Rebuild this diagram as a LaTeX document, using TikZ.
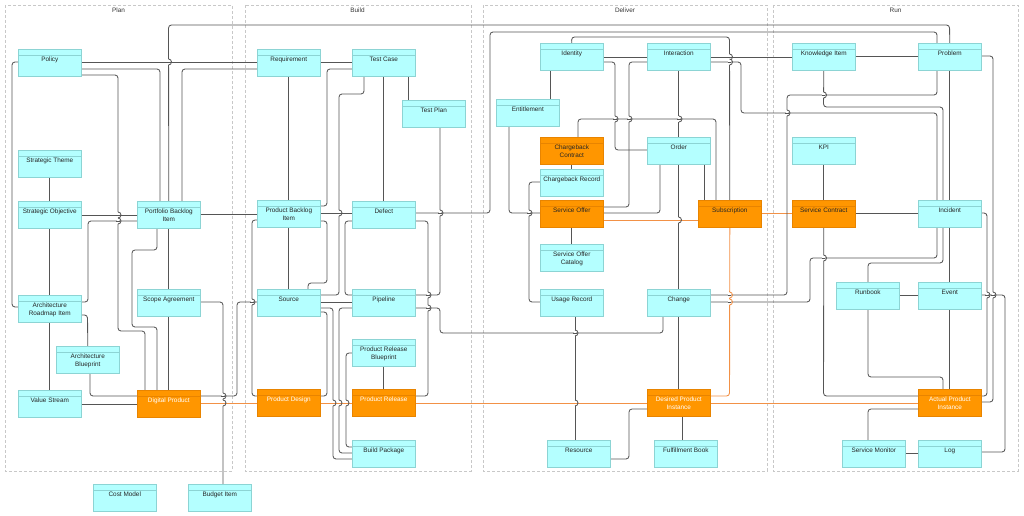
\documentclass[tikz,border=0pt]{standalone}
\usepackage{fontspec}
\setmainfont{Liberation Sans}
\usetikzlibrary{calc}
\pgfdeclarelayer{bg}
\pgfsetlayers{bg,main}
\definecolor{cyanfill}{RGB}{180,255,255}
\definecolor{cyanline}{RGB}{140,212,212}
\definecolor{orfill}{RGB}{255,150,0}
\definecolor{orline}{RGB}{232,132,0}
\definecolor{edgec}{RGB}{85,85,85}
\definecolor{oredge}{RGB}{242,145,70}
\definecolor{lanec}{RGB}{200,200,200}
\tikzset{
 box/.style={draw=cyanline, fill=cyanfill, minimum width=63pt, minimum height=27pt, inner sep=0pt, anchor=north west, line width=0.6pt},
 obox/.style={box, draw=orline, fill=orfill},
 hdr/.style={draw=cyanline, line width=0.5pt},
 ohdr/.style={draw=orline, line width=0.5pt},
 lbl/.style={font=\fontsize{6.4}{7.3}\selectfont, align=center, inner sep=0pt, anchor=north, text=black!85},
 wlbl/.style={lbl, text=white},
 conn/.style={draw=edgec, line width=0.85pt, rounded corners=3pt},
 oconn/.style={draw=oredge, line width=0.9pt, rounded corners=3pt},
 lanebox/.style={draw=lanec, line width=0.6pt, dash pattern=on 3pt off 2pt},
 lanetitle/.style={font=\fontsize{6.4}{7.3}\selectfont, inner sep=0pt, text=black!80},
}
\newcommand\cbx[4]{\node[box] (#1) at (#2,#3) {};
 \draw[hdr] ([yshift=-6.5pt]#1.north west) -- ([yshift=-6.5pt]#1.north east);
 \node[lbl] (#1-t) at ([yshift=-8pt]#1.north) {#4};}
\newcommand\obx[4]{\node[obox] (#1) at (#2,#3) {};
 \draw[ohdr] ([yshift=-6.5pt]#1.north west) -- ([yshift=-6.5pt]#1.north east);
 \node[lbl] (#1-t) at ([yshift=-8pt]#1.north) {#4};}
\newcommand\wbx[4]{\node[obox] (#1) at (#2,#3) {};
 \draw[ohdr] ([yshift=-6.5pt]#1.north west) -- ([yshift=-6.5pt]#1.north east);
 \node[wlbl] (#1-t) at ([yshift=-8pt]#1.north) {#4};}
% line jump: vertical line (colour #3) hops over horizontal line (colour #4) at (#1,#2)
\newcommand\vj[4]{%
 \fill[white] (#1-1.3,#2-3.3) rectangle (#1+1.3,#2+3.3);
 \draw[draw=#4, line width=0.85pt] (#1-1.6,#2) -- (#1+1.6,#2);
 \draw[draw=#3, line width=0.85pt] (#1,#2-3) arc[start angle=90,end angle=-90,radius=3pt];}
\begin{document}
\begin{tikzpicture}[x=1pt,y=-1pt]
\useasboundingbox (0,0) rectangle (1024,516);
% ---------- boxes ----------
% Plan
\cbx{policy}{18}{49}{Policy}
\cbx{stheme}{18}{150}{Strategic Theme}
\cbx{sobj}{18}{201}{Strategic Objective}
\cbx{pbi}{137}{201}{Portfolio Backlog\\Item}
\cbx{ari}{18}{295}{Architecture\\Roadmap Item}
\cbx{ab}{56}{346}{Architecture\\Blueprint}
\cbx{vs}{18}{390}{Value Stream}
\cbx{scope}{137}{289}{Scope Agreement}
\wbx{dp}{137}{390}{Digital Product}
\cbx{cost}{93}{484}{Cost Model}
\cbx{budget}{188}{484}{Budget Item}
% Build
\cbx{req}{257}{49}{Requirement}
\cbx{tc}{352}{49}{Test Case}
\cbx{tplan}{402}{100}{Test Plan}
\cbx{prbi}{257}{200}{Product Backlog\\Item}
\cbx{defect}{352}{201}{Defect}
\cbx{source}{257}{289}{Source}
\cbx{pipeline}{352}{289}{Pipeline}
\cbx{prb}{352}{339}{Product Release\\Blueprint}
\wbx{pd}{257}{389}{Product Design}
\wbx{pr}{352}{389}{Product Release}
\cbx{bp}{352}{440}{Build Package}
% Deliver
\cbx{identity}{540}{43}{Identity}
\cbx{interaction}{647}{43}{Interaction}
\cbx{entitlement}{496}{99}{Entitlement}
\obx{cbc}{540}{137}{Chargeback\\Contract}
\cbx{cbr}{540}{169}{Chargeback Record}
\obx{so}{540}{200}{Service Offer}
\cbx{order}{647}{137}{Order}
\obx{sub}{698}{200}{Subscription}
\cbx{soc}{540}{244}{Service Offer\\Catalog}
\cbx{usage}{540}{289}{Usage Record}
\cbx{change}{647}{289}{Change}
\wbx{dpi}{647}{389}{Desired Product\\Instance}
\cbx{resource}{547}{440}{Resource}
\cbx{fbook}{654}{440}{Fulfillment Book}
% Run
\cbx{ki}{792}{43}{Knowledge Item}
\cbx{problem}{918}{43}{Problem}
\cbx{kpi}{792}{137}{KPI}
\obx{sc}{792}{200}{Service Contract}
\cbx{incident}{918}{200}{Incident}
\cbx{runbook}{836}{282}{Runbook}
\cbx{event}{918}{282}{Event}
\wbx{api}{918}{389}{Actual Product\\Instance}
\cbx{smon}{842}{440}{Service Monitor}
\cbx{log}{918}{440}{Log}
% ---------- lanes and connectors ----------
\begin{pgfonlayer}{bg}
\draw[lanebox] (5,5) rectangle (232,471);
\draw[lanebox] (245,5) rectangle (471,471);
\draw[lanebox] (483,5) rectangle (767,471);
\draw[lanebox] (773,5) rectangle (1018,471);
\node[lanetitle] (lplan) at (118.5,10) {Plan};
\node[lanetitle] (lbuild) at (357.5,10) {Build};
\node[lanetitle] (ldeliver) at (625,10) {Deliver};
\node[lanetitle] (lrun) at (895.5,10) {Run};
% Plan
\draw[conn] (policy.west |- 0,62) -- (12,62) -- (12,307) -- (ari.west |- 0,307);
\draw[conn] (policy.east |- 0,62) -- (req.west |- 0,62);
\draw[conn] (policy.east |- 0,69) -- (160,69) -- (pbi.north -| 160,0);
\draw[conn] (policy.east |- 0,75) -- (118,75) -- (118,331) -- (145,331) -- (dp.north -| 145,0);
\draw[conn] (pbi.north) -- (168.5,25) -- (949.5,25) -- (problem.north);
\draw[conn] (pbi.north -| 182,0) -- (182,69) -- (req.west |- 0,69);
\draw[conn] (stheme.south) -- (sobj.north);
\draw[conn] (sobj.east |- 0,215) -- (pbi.west |- 0,215);
\draw[conn] (sobj.south) -- (ari.north);
\draw[conn] (pbi.west |- 0,221) -- (88,221) -- (88,302) -- (ari.east |- 0,302);
\draw[conn] (ari.east |- 0,315) -- (87.5,315) -- (ab.north);
\draw[conn] (ari.south) -- (vs.north);
\draw[conn] (ab.south -| 90,0) -- (90,396) -- (dp.west |- 0,396);
\draw[conn] (vs.east |- 0,404) -- (dp.west |- 0,404);
\draw[conn] (pbi.south -| 157,0) -- (157,250) -- (132,250) -- (132,327) -- (157,327) -- (dp.north -| 157,0);
\draw[conn] (pbi.south) -- (scope.north);
\draw[conn] (scope.south) -- (dp.north);
\draw[conn] (scope.east |- 0,302) -- (223,302) -- (budget.north -| 223,0);
\draw[conn] (dp.east |- 0,396) -- (237,396) -- (237,302) -- (source.west |- 0,302);
\draw[oconn] (dp.east |- 0,403) -- (pd.west |- 0,403);
\draw[oconn] (pd.east |- 0,403) -- (pr.west |- 0,403);
\draw[oconn] (pr.east |- 0,403) -- (dpi.west |- 0,403);
\draw[oconn] (dpi.east |- 0,403) -- (api.west |- 0,403);
% Build
\draw[conn] (pbi.east |- 0,214) -- (prbi.west |- 0,214);
\draw[conn] (req.east |- 0,62) -- (tc.west |- 0,62);
\draw[conn] (req.south) -- (prbi.north);
\draw[conn] (tc.west |- 0,69) -- (327,69) -- (327,206) -- (prbi.east |- 0,206);
\draw[conn] (tc.south -| 364,0) -- (364,94) -- (339,94) -- (339,295) -- (source.east |- 0,295);
\draw[conn] (tc.south) -- (defect.north);
\draw[conn] (tc.south -| 408,0) -- (tplan.north -| 408,0);
\draw[conn] (tplan.south -| 440,0) -- (440,295) -- (pipeline.east |- 0,295);
\draw[conn] (prbi.east |- 0,213) -- (defect.west |- 0,213);
\draw[conn] (prbi.south) -- (source.north);
\draw[conn] (prbi.west |- 0,220) -- (252,220) -- (252,396) -- (pd.west |- 0,396);
\draw[conn] (prbi.east |- 0,221) -- (327,221) -- (327,283) -- (308,283) -- (source.north -| 308,0);
\draw[conn] (defect.west |- 0,221) -- (345,221) -- (345,295) -- (pipeline.west |- 0,295);
\draw[conn] (source.east |- 0,302) -- (pipeline.west |- 0,302);
\draw[conn] (source.east |- 0,308) -- (333,308) -- (333,459) -- (bp.west |- 0,459);
\draw[conn] (pipeline.west |- 0,308) -- (339,308) -- (339,453) -- (bp.west |- 0,453);
\draw[conn] (prb.west |- 0,353) -- (346,353) -- (346,447) -- (bp.west |- 0,447);
\draw[conn] (prb.south) -- (pr.north);
\draw[conn] (defect.east |- 0,221) -- (428,221) -- (428,396) -- (pr.east |- 0,396);
\draw[conn] (defect.east |- 0,213) -- (490,213) -- (490,32) -- (937,32) -- (problem.north -| 937,0);
\draw[conn] (pipeline.east |- 0,308) -- (440,308) -- (440,333) -- (663,333) -- (change.south -| 663,0);
\draw[conn] (source.east |- 0,312) -- (327,312) -- (327,396) -- (pd.east |- 0,396);
% Deliver
\draw[conn] (identity.north) -- (571.5,37) -- (729.5,37) -- (sub.north);
\draw[conn] (identity.east |- 0,57) -- (interaction.west |- 0,57);
\draw[conn] (identity.east |- 0,62) -- (615,62) -- (615,150) -- (order.west |- 0,150);
\draw[conn] (interaction.west |- 0,62) -- (629,62) -- (629,207) -- (so.east |- 0,207);
\draw[conn] (interaction.east |- 0,57) -- (ki.west |- 0,57);
\draw[conn] (interaction.east |- 0,62) -- (741,62) -- (741,113) -- (937,113) -- (incident.north -| 937,0);
\draw[conn] (identity.south -| 550,0) -- (entitlement.north -| 550,0);
\draw[conn] (entitlement.south -| 509,0) -- (509,213) -- (so.west |- 0,213);
\draw[conn] (cbc.north -| 578,0) -- (578,119) -- (716,119) -- (sub.north -| 716,0);
\draw[conn] (interaction.south) -- (order.north);
\draw[conn] (order.south) -- (change.north);
\draw[conn] (change.south) -- (dpi.north);
\draw[conn] (order.south -| 660,0) -- (660,213) -- (so.east |- 0,213);
\draw[conn] (order.south -| 704,0) -- (sub.north -| 704,0);
\draw[conn] (cbc.south) -- (cbr.north);
\draw[conn] (cbr.west |- 0,182) -- (529,182) -- (529,302) -- (usage.west |- 0,302);
\draw[conn] (so.south) -- (soc.north);
\draw[oconn] (so.east |- 0,220) -- (sub.west |- 0,220);
\draw[oconn] (sub.east |- 0,213) -- (sc.west |- 0,213);
\draw[oconn] (sub.south) -- (729.5,396) -- (dpi.east |- 0,396);
\draw[conn] (usage.south -| 575,0) -- (resource.north -| 575,0);
\draw[conn] (change.east |- 0,295) -- (787,295) -- (787,95) -- (937,95) -- (problem.south -| 937,0);
\draw[conn] (change.east |- 0,302) -- (810,302) -- (810,258) -- (937,258) -- (incident.south -| 937,0);
\draw[conn] (dpi.south -| 682,0) -- (fbook.north -| 682,0);
\draw[conn] (dpi.west |- 0,409) -- (629,409) -- (629,459) -- (resource.east |- 0,459);
% Run
\draw[conn] (ki.east |- 0,56) -- (problem.west |- 0,56);
\draw[conn] (ki.south) -- (823.5,107) -- (943,107) -- (943,263) -- (868,263) -- (runbook.north -| 868,0);
\draw[conn] (problem.east |- 0,56) -- (993,56) -- (993,402) -- (api.east |- 0,402);
\draw[conn] (problem.south) -- (incident.north);
\draw[conn] (incident.south) -- (event.north);
\draw[conn] (event.south) -- (api.north);
\draw[conn] (incident.east |- 0,213) -- (987,213) -- (987,396) -- (api.east |- 0,396);
\draw[conn] (sc.east |- 0,213) -- (incident.west |- 0,213);
\draw[conn] (kpi.south) -- (sc.north);
\draw[conn] (sc.south) -- (823.5,396) -- (api.west |- 0,396);
\draw[conn] (event.east |- 0,295) -- (1005,295) -- (1005,452) -- (log.east |- 0,452);
\draw[conn] (runbook.east |- 0,295) -- (event.west |- 0,295);
\draw[conn] (runbook.south -| 868,0) -- (868,377) -- (943,377) -- (api.north -| 943,0);
\draw[conn] (api.west |- 0,409) -- (868,409) -- (smon.north -| 868,0);
\draw[conn] (smon.east |- 0,453) -- (log.west |- 0,453);
% line jumps
\vj{168.5}{62}{edgec}{edgec}
\vj{118}{215}{edgec}{edgec}
\vj{118}{221}{edgec}{edgec}
\vj{223}{396}{edgec}{edgec}
\vj{252}{302}{edgec}{edgec}
\vj{339}{213}{edgec}{edgec}
\vj{428}{295}{edgec}{edgec}
\vj{428}{308}{edgec}{edgec}
\vj{440}{213}{edgec}{edgec}
\vj{615}{119}{edgec}{edgec}
\vj{629}{119}{edgec}{edgec}
\vj{679}{119}{edgec}{edgec}
\vj{729.5}{57}{edgec}{edgec}
\vj{729.5}{62}{edgec}{edgec}
\vj{529}{213}{edgec}{edgec}
\vj{575}{333}{edgec}{edgec}
\vj{787}{113}{edgec}{edgec}
\vj{823.5}{95}{edgec}{edgec}
\vj{823.5}{258}{edgec}{edgec}
\vj{987}{295}{edgec}{edgec}
\vj{993}{295}{edgec}{edgec}
\vj{223}{403}{edgec}{oredge}
\vj{333}{403}{edgec}{oredge}
\vj{339}{403}{edgec}{oredge}
\vj{346}{403}{edgec}{oredge}
\vj{575}{403}{edgec}{oredge}
\vj{678.5}{220}{edgec}{oredge}
\vj{729.5}{295}{oredge}{edgec}
\vj{729.5}{302}{oredge}{edgec}
\end{pgfonlayer}
\end{tikzpicture}
\end{document}
